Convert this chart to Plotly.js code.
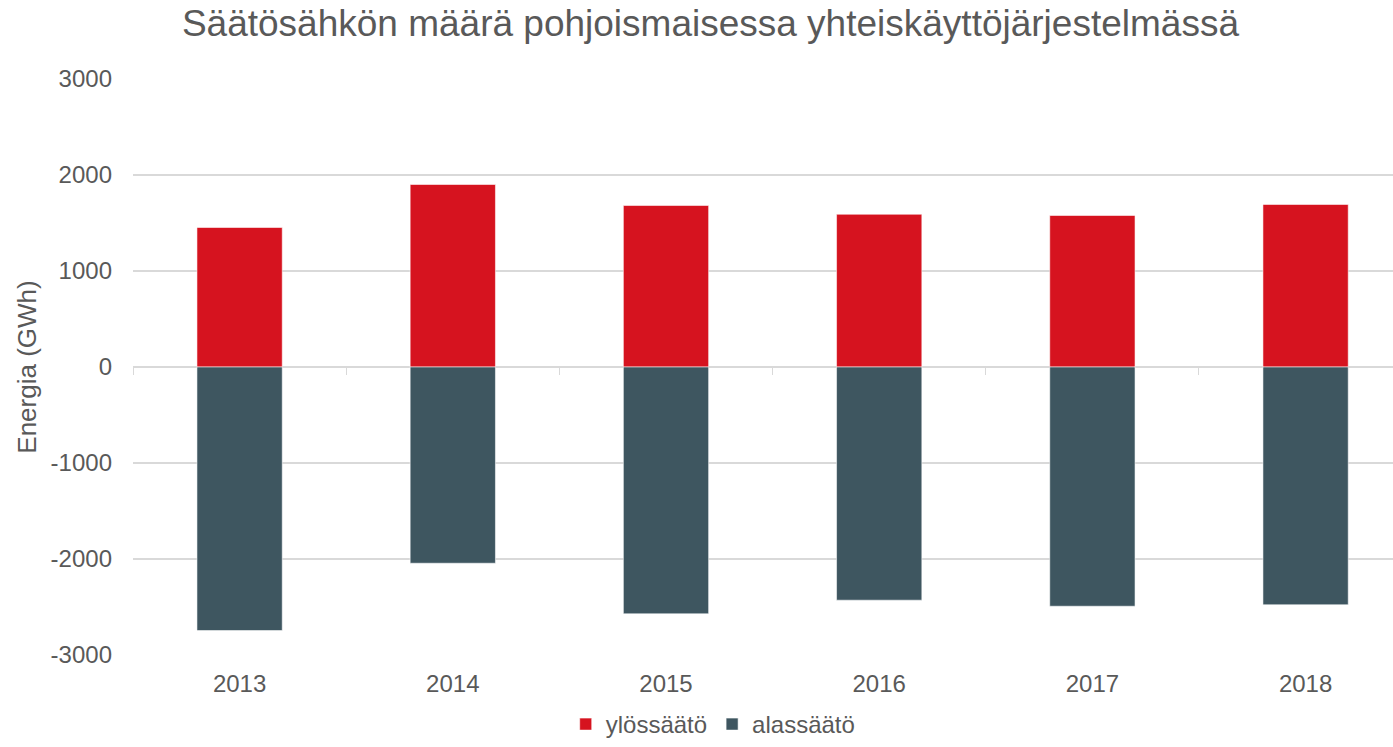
<!DOCTYPE html>
<html>
<head>
<meta charset="utf-8">
<script src="https://cdn.plot.ly/plotly-3.0.1.min.js"></script>
<style>html,body{margin:0;padding:0;background:#fff;}#chart{width:1393px;height:747px;}</style>
</head>
<body>
<div id="chart"></div>
<script>
const years = ["2013", "2014", "2015", "2016", "2017", "2018"];
const ylossaato = [1453, 1901, 1682, 1591, 1578, 1693];
const alassaato = [-2745, -2044, -2571, -2429, -2492, -2477];
const yTickVals = [3000, 2000, 1000, 0, -1000, -2000, -3000];
const yTickText = ["3000", "2000", "1000", "0", "-1000", "-2000", "-3000"];
const catBoundaries = [-0.5, 0.5, 1.5, 2.5, 3.5, 4.5];

const textColor = "#595959";
const gridColor = "#d9d9d9";
const font = "Liberation Sans, Arial, sans-serif";

const traces = [
  {
    type: "bar", name: "ylössäätö", x: years, y: ylossaato,
    marker: {color: "#d6131f", line: {color: "rgba(255,255,255,0.55)", width: 1}},
    hoverinfo: "x+y"
  },
  {
    type: "bar", name: "alassäätö", x: years, y: alassaato,
    marker: {color: "#3e5660", line: {color: "rgba(255,255,255,0.55)", width: 1}},
    hoverinfo: "x+y"
  },
  {
    type: "scatter", x: [], y: [], xaxis: "x2", yaxis: "y",
    showlegend: false, hoverinfo: "skip"
  }
];

const layout = {
  width: 1393, height: 747,
  margin: {l: 133, r: 0, t: 79, b: 92},
  paper_bgcolor: "#ffffff", plot_bgcolor: "#ffffff",
  font: {family: font, color: textColor, size: 24},
  barmode: "relative",
  bargap: 0.6,
  title: {
    text: "Säätösähkön määrä pohjoismaisessa yhteiskäyttöjärjestelmässä",
    font: {family: font, size: 37, color: textColor},
    xref: "container", x: 0.51, xanchor: "center",
    yref: "container", y: 1 - 23/747, yanchor: "middle"
  },
  xaxis: {
    type: "category",
    range: [-0.5, 5.41],
    showgrid: false, zeroline: false, showline: false,
    ticks: "",
    tickfont: {family: font, size: 24, color: textColor},
    ticklabelstandoff: 12,
    fixedrange: true
  },
  xaxis2: {
    overlaying: "x", anchor: "free", position: 0.5, side: "bottom",
    range: [-0.5, 5.41],
    showgrid: false, zeroline: false,
    showline: false,
    tickmode: "array", tickvals: catBoundaries,
    ticks: "outside", ticklen: 7, tickwidth: 1, tickcolor: gridColor,
    showticklabels: false,
    fixedrange: true
  },
  yaxis: {
    range: [-3000, 3000],
    tickmode: "array", tickvals: yTickVals, ticktext: yTickText,
    showgrid: true, gridcolor: gridColor, gridwidth: 1.5,
    zeroline: true, zerolinecolor: gridColor, zerolinewidth: 1.5,
    showline: false, ticks: "",
    ticklabelstandoff: 20,
    tickfont: {family: font, size: 24, color: textColor},
    title: {text: "Energia (GWh)", font: {family: font, size: 26, color: textColor}, standoff: 6},
    fixedrange: true
  },
  showlegend: true,
  legend: {
    orientation: "h",
    xref: "container", x: 0.512, xanchor: "center",
    yref: "container", y: -0.009, yanchor: "bottom",
    font: {family: font, size: 24, color: textColor},
    itemwidth: 30, tracegroupgap: 0,
    traceorder: "normal"
  }
};

Plotly.newPlot("chart", traces, layout, {displayModeBar: false, staticPlot: true});
</script>
</body>
</html>
